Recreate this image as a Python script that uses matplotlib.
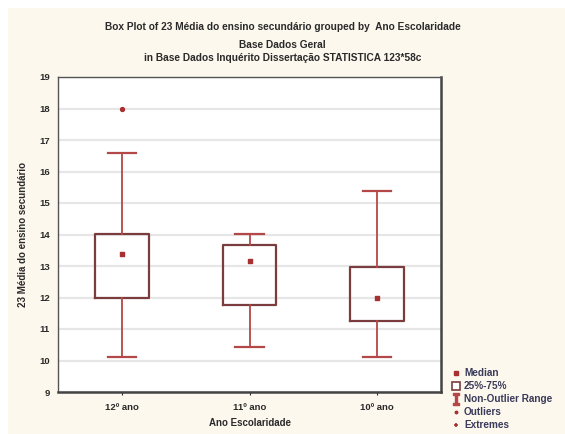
import matplotlib.pyplot as plt
from matplotlib.lines import Line2D
from matplotlib.patches import Rectangle

plt.rcParams['font.family'] = ['Liberation Sans', 'DejaVu Sans']

# values
groups = ["12º ano", "11º ano", "10º ano"]
medians = [13.38, 13.17, 12.0]
q1 = [12.0, 11.75, 11.26]
q3 = [14.03, 13.68, 12.97]
whisker_low = [10.12, 10.42, 10.12]
whisker_high = [16.6, 14.03, 15.39]
outliers = [[17.97], [], []]

y_ticks = list(range(9, 20))

BOX_EDGE = "#7a3c3c"
WHISKER = "#b44848"
DOT = "#a83030"
CREAM = "#fdf8ee"
TXT = "#2a2a2a"

fig = plt.figure(figsize=(5.65, 4.34), dpi=100)
fig.patch.set_facecolor("white")
fig.patches.append(Rectangle((8 / 565, 0), 1, 1 - 8 / 434, transform=fig.transFigure,
                             facecolor=CREAM, edgecolor="none", zorder=-10))

ax = fig.add_axes([58 / 565, 1 - 392 / 434, 383 / 565, 315 / 434])
ax.set_facecolor("white")

stats = []
for i, g in enumerate(groups):
    stats.append(dict(label=g, med=medians[i], q1=q1[i], q3=q3[i],
                      whislo=whisker_low[i], whishi=whisker_high[i], fliers=outliers[i]))

pos = [1, 2, 3]
ax.bxp(stats, positions=pos, widths=0.42, showfliers=False,
       boxprops=dict(color=BOX_EDGE, linewidth=1.6),
       whiskerprops=dict(color=WHISKER, linewidth=1.3),
       capprops=dict(color=WHISKER, linewidth=1.6),
       medianprops=dict(linewidth=0),
       capwidths=0.22, zorder=3)

ax.scatter(pos, medians, s=12, marker="s", color=DOT, zorder=4)
for p, out in zip(pos, outliers):
    ax.scatter([p] * len(out), out, s=8, color=DOT, zorder=4)

ax.set_xlim(0.5, 3.5)
ax.set_ylim(9, 19)
ax.set_yticks(y_ticks)
ax.set_xticks(pos)
ax.set_xticklabels(groups)
ax.yaxis.grid(True, color="#e6e6e6", linewidth=1.6)
ax.set_axisbelow(True)
ax.tick_params(axis="both", labelsize=6.8, length=2, width=0.8, colors=TXT)
ax.tick_params(axis="x", pad=6)
ax.tick_params(axis="y", length=0, pad=6)
for lab in ax.get_xticklabels() + ax.get_yticklabels():
    lab.set_fontweight("bold")
for side in ["top", "left"]:
    ax.spines[side].set_color("#555555")
    ax.spines[side].set_linewidth(1.0)
for side in ["bottom", "right"]:
    ax.spines[side].set_color("#444444")
    ax.spines[side].set_linewidth(1.8)

ax.set_xlabel("Ano Escolaridade", fontsize=7, color=TXT, fontweight="bold", labelpad=4)
ax.set_ylabel("23 Média do ensino secundário", fontsize=7, color=TXT,
              fontweight="bold", labelpad=8)

fig.text(0.5, 1 - 27 / 434, "Box Plot of 23 Média do ensino secundário grouped by  Ano Escolaridade",
         ha="center", va="center", fontsize=7.3, fontweight="bold", color=TXT)
fig.text(0.5, 1 - 45 / 434, "Base Dados Geral", ha="center", va="center",
         fontsize=7.3, fontweight="bold", color=TXT)
fig.text(0.5, 1 - 58 / 434, "in Base Dados Inquérito Dissertação STATISTICA 123*58c",
         ha="center", va="center", fontsize=7.3, fontweight="bold", color=TXT)

handles = [
    Line2D([], [], linestyle="none", marker="s", markersize=2.5, color=DOT),
    Line2D([], [], linestyle="none", marker="s", markersize=6, markerfacecolor="white",
           markeredgecolor=BOX_EDGE, markeredgewidth=1.2),
    Line2D([], [], linestyle="none", marker=r"$\mathtt{I}$", markersize=8, color=WHISKER),
    Line2D([], [], linestyle="none", marker="o", markersize=1.8, color=DOT),
    Line2D([], [], linestyle="none", marker="+", markersize=3.5, markeredgewidth=1.2, color=DOT),
]
labels = ["Median", "25%-75%", "Non-Outlier Range", "Outliers", "Extremes"]
leg = fig.legend(handles, labels, loc="lower left", bbox_to_anchor=(446 / 565, -0.005),
                 frameon=False, fontsize=7.2, handlelength=0.8, handletextpad=0.4,
                 labelspacing=0.3, borderaxespad=0.2, labelcolor="#3a3a5a")
for t in leg.get_texts():
    t.set_fontweight("bold")

fig.savefig("out.png", dpi=100, facecolor=fig.get_facecolor())
